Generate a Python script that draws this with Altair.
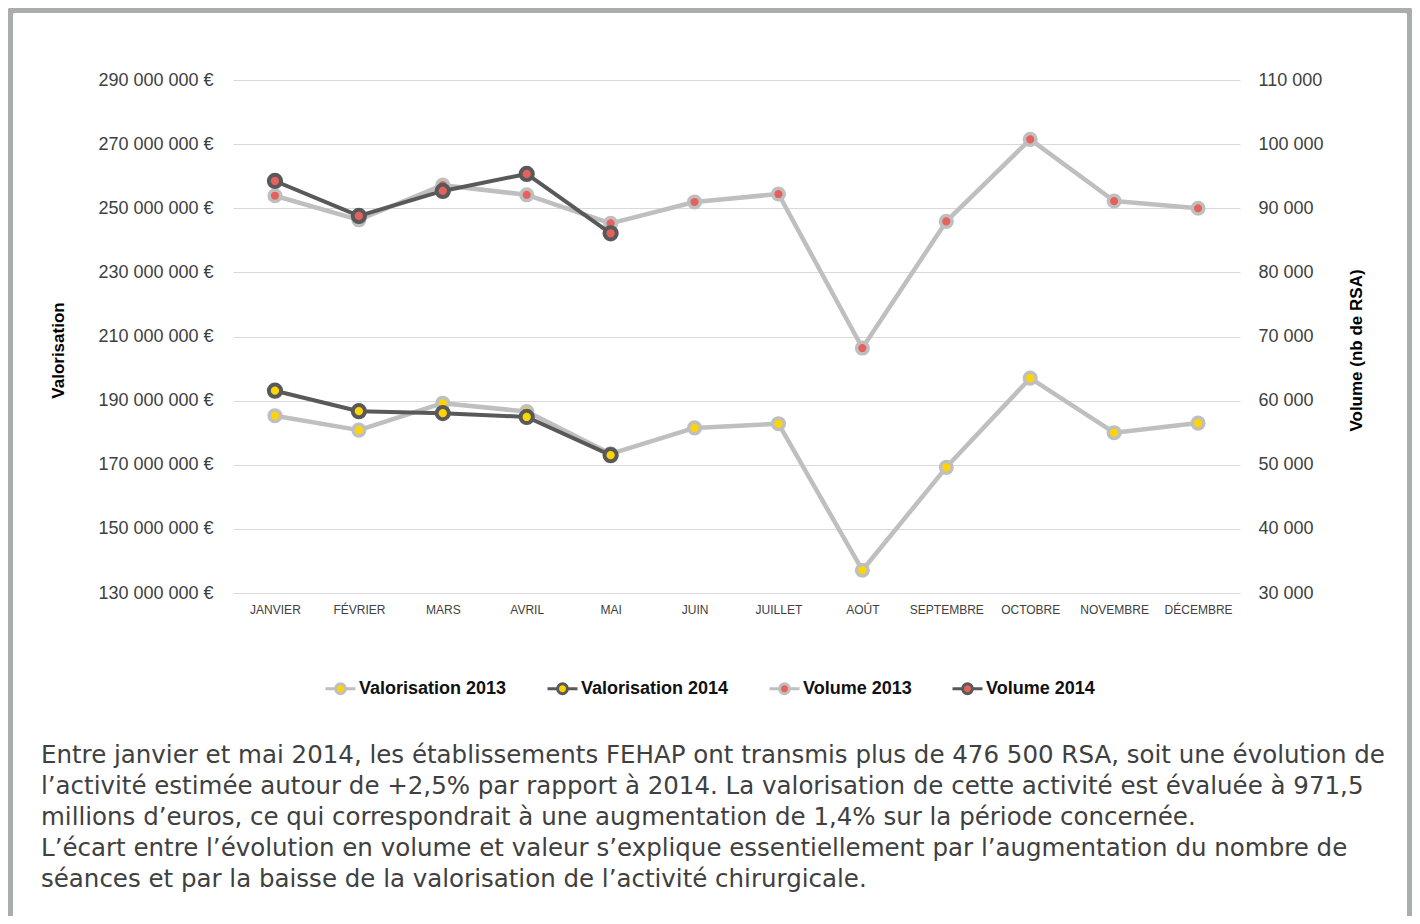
import altair as alt
import pandas as pd

# ---------------- data ----------------
months = ["JANVIER", "FÉVRIER", "MARS", "AVRIL", "MAI", "JUIN", "JUILLET",
          "AOÛT", "SEPTEMBRE", "OCTOBRE", "NOVEMBRE", "DÉCEMBRE"]
# valorisation in millions of euros
valo_2013 = [185.3, 180.8, 189.2, 186.6, 173.4, 181.5, 182.8, 137.1, 169.2, 197.0, 180.0, 183.0]
valo_2014 = [193.1, 186.7, 186.1, 184.9, 173.0]
# volume (nb de RSA)
vol_2013 = [91950, 88200, 93600, 92100, 87650, 90980, 92220, 68200, 87950, 100750, 91130, 90000]
vol_2014 = [94250, 88800, 92700, 95350, 86100]
series_names = ["Valorisation 2013", "Valorisation 2014", "Volume 2013", "Volume 2014"]
paragraph_lines = [
    "Entre janvier et mai 2014, les établissements FEHAP ont transmis plus de 476 500 RSA, soit une évolution de",
    "l’activité estimée autour de +2,5% par rapport à 2014. La valorisation de cette activité est évaluée à 971,5",
    "millions d’euros, ce qui correspondrait à une augmentation de 1,4% sur la période concernée.",
    "L’écart entre l’évolution en volume et valeur s’explique essentiellement par l’augmentation du nombre de",
    "séances et par la baisse de la valorisation de l’activité chirurgicale.",
]

# ---------------- styles ----------------
LIGHT = "#bfbfbf"
DARK = "#595959"
YELLOW = "#ffd500"
RED = "#e5615d"
GRID = "#d9d9d9"
FRAME = "#a9adab"
TXT = "#404040"
FONT = "Liberation Sans"

W, H = 1007, 513
PAD = {"left": 225, "top": 72, "right": 172, "bottom": 323}


def frame_df(values, series):
    return pd.DataFrame({"month": months[:len(values)], "value": values, "series": series})


df_v13 = frame_df([v * 1e6 for v in valo_2013], series_names[0])
df_v14 = frame_df([v * 1e6 for v in valo_2014], series_names[1])
df_n13 = frame_df(vol_2013, series_names[2])
df_n14 = frame_df(vol_2014, series_names[3])

stroke_scale = alt.Scale(domain=series_names, range=[LIGHT, DARK, LIGHT, DARK])
fill_scale = alt.Scale(domain=series_names, range=[YELLOW, YELLOW, RED, RED])

LEG_PATH = ("M-1,0L-0.33,0M0.33,0L1,0M-0.33,0A0.33,0.33,0,1,1,0.33,0"
            "A0.33,0.33,0,1,1,-0.33,0Z")
legend = alt.Legend(
    title=None, orient="none", direction="horizontal", legendX=91, legendY=592,
    symbolType=LEG_PATH, symbolSize=900, symbolStrokeWidth=3, symbolOpacity=1,
    labelFont=FONT, labelFontSize=18, labelFontWeight="bold", labelColor="#111111",
    labelOffset=2, columnPadding=34, labelLimit=300,
)

x_enc = alt.X("month:N", sort=months, scale=alt.Scale(domain=months),
              axis=alt.Axis(title=None, labelAngle=0, grid=False, ticks=False, tickSize=0,
                            domain=True, domainColor=GRID, domainWidth=1,
                            labelFont=FONT, labelFontSize=12,
                            labelColor=TXT, labelPadding=11))

y_valo = alt.Y("value:Q", scale=alt.Scale(domain=[130e6, 290e6], nice=False, zero=False),
               axis=alt.Axis(orient="left", title="Valorisation", values=list(range(130000000, 290000001, 20000000)),
                             labelExpr="replace(format(datum.value, ',.0f'), regexp(',', 'g'), ' ') + ' €'",
                             grid=True, gridColor=GRID, gridWidth=1, domain=False, ticks=False, tickSize=0,
                             labelFont=FONT, labelFontSize=18, labelColor=TXT, labelPadding=20,
                             titleFont=FONT, titleFontSize=17, titleFontWeight="bold", titleColor="#000000",
                             titleAngle=270, titleX=-175, titleY=270, titleAlign="center",
                             titleBaseline="middle"))

y_vol = alt.Y("value:Q", scale=alt.Scale(domain=[30000, 110000], nice=False, zero=False),
              axis=alt.Axis(orient="right", title="Volume (nb de RSA)", values=list(range(30000, 110001, 10000)),
                            labelExpr="replace(format(datum.value, ',.0f'), regexp(',', 'g'), ' ')",
                            grid=False, domain=False, ticks=False, tickSize=0,
                            labelFont=FONT, labelFontSize=18, labelColor=TXT, labelPadding=18,
                            titleFont=FONT, titleFontSize=17, titleFontWeight="bold", titleColor="#000000",
                            titleAngle=270, titleX=116, titleY=270, titleAlign="center",
                            titleBaseline="middle"))


def line_layer(df, y, width):
    return alt.Chart(df).mark_line(strokeWidth=width, strokeJoin="round").encode(
        x=x_enc, y=y,
        stroke=alt.Stroke("series:N", scale=stroke_scale, legend=legend),
    )


def point_layer(df, y, size, sw):
    return alt.Chart(df).mark_point(filled=False, shape="circle", size=size, strokeWidth=sw,
                                    opacity=1).encode(
        x=x_enc, y=y,
        stroke=alt.Stroke("series:N", scale=stroke_scale, legend=legend),
        fill=alt.Fill("series:N", scale=fill_scale, legend=legend),
    )


valo_layer = alt.layer(
    line_layer(df_v13, y_valo, 4.5), point_layer(df_v13, y_valo, 135, 3.5),
    line_layer(df_v14, y_valo, 4), point_layer(df_v14, y_valo, 150, 4),
)
vol_layer = alt.layer(
    line_layer(df_n13, y_vol, 4.5), point_layer(df_n13, y_vol, 135, 3.5),
    line_layer(df_n14, y_vol, 4), point_layer(df_n14, y_vol, 150, 4),
)

frame = alt.Chart(pd.DataFrame({"k": [0]})).mark_rect(
    stroke=FRAME, strokeWidth=7, fillOpacity=0, cornerRadius=5
).encode(x=alt.value(-223.5), x2=alt.value(1177.5), y=alt.value(-70.5), y2=alt.value(980))

para = alt.Chart(pd.DataFrame({"t": ["\n".join(paragraph_lines)]})).mark_text(
    align="left", baseline="middle", lineBreak="\n", lineHeight=31,
    font="DejaVu Sans", fontSize=24.5, color=TXT
).encode(x=alt.value(-192), y=alt.value(676), text="t:N")

chart = alt.layer(frame, valo_layer, vol_layer, para).resolve_scale(y="independent").properties(
    width=W, height=H,
    autosize=alt.AutoSizeParams(type="none"),
    padding=PAD,
).configure(
    background="white",
    view=alt.ViewConfig(stroke="transparent", strokeWidth=0),
)

chart.save("out.html", embed_options={"renderer": "svg", "actions": False})
